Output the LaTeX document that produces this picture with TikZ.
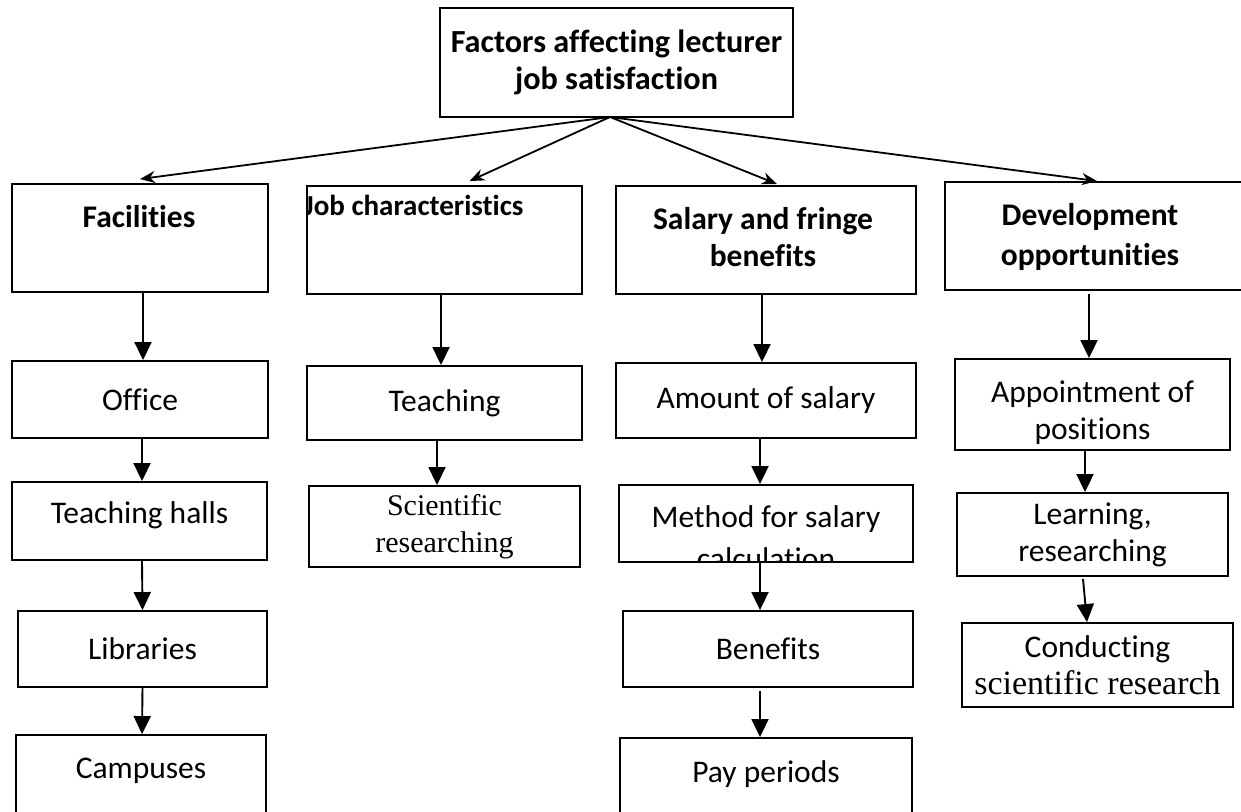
\documentclass[tikz,border=0pt]{standalone}
\usepackage{fontspec}
\setmainfont{Carlito}[Ligatures={NoCommon,NoContextual}]
\newfontfamily\timesfont{Liberation Serif}
\usetikzlibrary{arrows.meta}

\begin{document}
\begin{tikzpicture}[x=1pt,y=-1pt,
        box/.style={draw, line width=1.9pt, inner sep=0pt, align=center},
        reg/.style={font=\fontsize{31.5}{37}\selectfont, align=center},
        hd/.style={font=\bfseries\fontsize{31.5}{38}\selectfont},
        tnr/.style={font=\timesfont\fontsize{30}{37}\selectfont},
        toparrow/.style={-{Stealth[length=15pt,width=12pt]}, line width=1.8pt},
        downarrow/.style={-{Triangle[length=18pt,width=17pt]}, line width=1.9pt}]
        \clip (0,0) rectangle (1241,811);
        % top box
        \node[box, minimum width=353pt, minimum height=109pt, font=\bfseries\fontsize{32.2}{37}\selectfont] (top) at (616.5,62.5) {Factors affecting lecturer\\job satisfaction};
        \coordinate (fork) at (610,117);
        % second row
        \node[box, minimum width=256pt, minimum height=108pt] (fac) at (140,238) {};
        \node[box, minimum width=275pt, minimum height=108pt] (job) at (444.5,240) {};
        \node[box, minimum width=300pt, minimum height=108pt] (sal) at (766,240) {};
        \node[box, minimum width=304pt, minimum height=108pt] (dev) at (1097,236) {};
        \node[hd, anchor=base] (fac-txt) at (139,227) {Facilities};
        \begin{scope}
            \clip (job.north west) rectangle (job.south east);
            \node[hd, font=\bfseries\fontsize{29}{38}\selectfont, anchor=base west, inner sep=0pt] (job-txt) at (304,215) {Job characteristics};
        \end{scope}
        \node[hd, anchor=base] (sal-l1) at (763,229) {Salary and fringe};
        \node[hd, anchor=base] (sal-l2) at (763,266) {benefits};
        \node[hd, anchor=base] (dev-l1) at (1090,225) {Development};
        \node[hd, anchor=base] (dev-l2) at (1090,265) {opportunities};
        % facilities column
        \node[box, reg, minimum width=256pt, minimum height=77pt] (office) at (140,399.5) {Office};
        \node[box, minimum width=255pt, minimum height=78pt] (halls) at (139.5,521) {};
        \node[reg, anchor=base] (halls-txt) at (139.5,523) {Teaching halls};
        \node[box, reg, minimum width=249pt, minimum height=76pt] (lib) at (142.5,649) {Libraries};
        \node[box, minimum width=250pt, minimum height=95pt] (camp) at (141,782.5) {};
        \node[reg, anchor=base] (camp-txt) at (141,778) {Campuses};
        % job column
        \node[box, reg, minimum width=275pt, minimum height=74pt] (teach) at (444.5,403) {Teaching};
        \node[box, tnr, minimum width=271pt, minimum height=81pt] (sci) at (444.5,526.5) {Scientific\\researching};
        % salary column
        \node[box, reg, minimum width=300pt, minimum height=75pt] (amt) at (766,400.5) {Amount of salary};
        \node[box, minimum width=294pt, minimum height=77pt] (meth) at (766,523.5) {};
        \begin{scope}
            \clip (meth.north west) rectangle (meth.south east);
            \node[reg, anchor=base] (meth-l1) at (766,527) {Method for salary};
            \node[reg, anchor=base] (meth-l2) at (766,569) {calculation};
        \end{scope}
        \node[box, reg, minimum width=290pt, minimum height=76pt] (ben) at (768,649) {Benefits};
        \node[box, minimum width=292pt, minimum height=92pt] (pay) at (766,784) {};
        \node[reg, anchor=base] (pay-txt) at (766,782) {Pay periods};
        % development column
        \node[box, minimum width=275pt, minimum height=91pt] (app) at (1092.5,404.5) {};
        \node[reg] (app-txt) at (1092.5,413) {Appointment of\\positions};
        \node[box, reg, minimum width=271pt, minimum height=83pt] (learn) at (1092.5,534.5) {Learning,\\researching};
        \node[box, reg, minimum width=271pt, minimum height=84pt] (cond) at (1097.5,665) {Conducting\\{\fontsize{34}{37}\timesfont scientific research}};
        % arrows from the top box
        \draw[toparrow] (fork) -- ([yshift=4pt]fac.north);
        \draw[toparrow] (fork) -- ([xshift=25pt,yshift=4pt]job.north);
        \draw[toparrow] (fork) -- ([xshift=11pt,yshift=1pt]sal.north);
        \draw[toparrow] (fork) -- (dev.north);
        % arrows down the columns
        \draw[downarrow] ([xshift=3pt]fac.south) -- ([xshift=3pt]office.north);
        \draw[downarrow] ([xshift=2pt]office.south) -- ([xshift=2.5pt]halls.north);
        \draw[downarrow] ([xshift=2.5pt]halls.south) -- (lib.north);
        \draw[downarrow] (lib.south) -- ([xshift=1pt]camp.north);
        \draw[downarrow] ([xshift=-3.5pt]job.south) -- ([xshift=-3.5pt]teach.north);
        \draw[downarrow] ([xshift=-7.5pt]teach.south) -- ([xshift=-7.5pt]sci.north);
        \draw[downarrow] ([xshift=-4pt]sal.south) -- ([xshift=-4pt]amt.north);
        \draw[downarrow] ([xshift=-6pt]amt.south) -- ([xshift=-6pt]meth.north);
        \draw[downarrow] ([xshift=-6pt]meth.south) -- ([xshift=-8pt]ben.north);
        \draw[downarrow] ([xshift=-8pt,yshift=-3pt]ben.south) -- ([xshift=-6pt]pay.north);
        \draw[downarrow] ([xshift=-8pt,yshift=-3pt]dev.south) -- ([xshift=-3.5pt]app.north);
        \draw[downarrow] ([xshift=-7.5pt]app.south) -- ([xshift=-7.5pt]learn.north);
        \draw[downarrow] ([xshift=-9.5pt,yshift=-2pt]learn.south) -- ([xshift=-10.5pt]cond.north);
    \end{tikzpicture}
\end{document}
